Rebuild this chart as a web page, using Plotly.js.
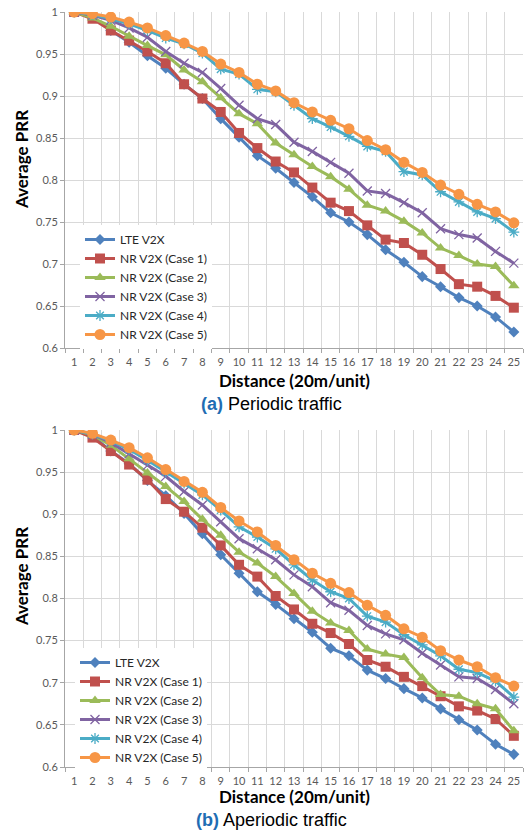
<!DOCTYPE html>
<html>
<head>
<meta charset="utf-8">
<script src="https://cdn.plot.ly/plotly-3.0.1.min.js"></script>
<style>html,body{margin:0;padding:0;background:#fff;}#chart{width:526px;height:831px;}</style>
</head>
<body>
<div id="chart"></div>
<script>
// ---- data ----
const categories = ['1','2','3','4','5','6','7','8','9','10','11','12','13','14','15','16','17','18','19','20','21','22','23','24','25'];
const seriesNames = ['LTE V2X','NR V2X (Case 1)','NR V2X (Case 2)','NR V2X (Case 3)','NR V2X (Case 4)','NR V2X (Case 5)'];
const yTickVals = [0.6,0.65,0.7,0.75,0.8,0.85,0.9,0.95,1];
const yTickText = ['0.6','0.65','0.7','0.75','0.8','0.85','0.9','0.95','1'];

// (a) Periodic traffic
const lteA   = [1.0,0.994,0.978,0.964,0.948,0.933,0.914,0.897,0.873,0.851,0.829,0.814,0.797,0.780,0.761,0.750,0.735,0.717,0.702,0.685,0.673,0.660,0.650,0.637,0.619];
const case1A = [1.0,0.992,0.978,0.966,0.953,0.939,0.914,0.897,0.881,0.856,0.838,0.822,0.809,0.791,0.773,0.763,0.746,0.729,0.725,0.711,0.694,0.676,0.673,0.662,0.648];
const case2A = [1.0,0.993,0.983,0.971,0.960,0.949,0.931,0.917,0.898,0.879,0.867,0.844,0.830,0.816,0.804,0.789,0.770,0.763,0.751,0.737,0.719,0.710,0.700,0.697,0.674];
const case3A = [1.0,0.996,0.990,0.981,0.970,0.953,0.939,0.928,0.909,0.889,0.873,0.866,0.845,0.834,0.821,0.808,0.787,0.784,0.773,0.761,0.742,0.735,0.731,0.715,0.701];
const case4A = [1.0,0.997,0.992,0.986,0.978,0.969,0.962,0.951,0.932,0.926,0.908,0.905,0.889,0.873,0.863,0.852,0.840,0.834,0.810,0.806,0.786,0.774,0.762,0.754,0.738];
const case5A = [1.0,0.998,0.994,0.988,0.981,0.972,0.963,0.953,0.938,0.928,0.914,0.906,0.892,0.881,0.871,0.861,0.847,0.836,0.821,0.809,0.794,0.783,0.771,0.762,0.749];

// (b) Aperiodic traffic
const lteB   = [1.0,0.993,0.975,0.960,0.940,0.922,0.901,0.877,0.852,0.830,0.808,0.793,0.776,0.760,0.741,0.732,0.715,0.705,0.693,0.682,0.669,0.656,0.644,0.627,0.615];
const case1B = [1.0,0.991,0.975,0.959,0.941,0.918,0.903,0.884,0.863,0.840,0.826,0.803,0.787,0.770,0.759,0.746,0.727,0.719,0.707,0.696,0.684,0.672,0.667,0.657,0.637];
const case2B = [1.0,0.994,0.982,0.966,0.949,0.933,0.915,0.894,0.875,0.855,0.842,0.826,0.806,0.785,0.771,0.762,0.740,0.734,0.730,0.706,0.686,0.684,0.675,0.669,0.643];
const case3B = [1.0,0.995,0.985,0.972,0.958,0.945,0.927,0.911,0.891,0.871,0.859,0.846,0.828,0.814,0.795,0.786,0.768,0.758,0.751,0.735,0.721,0.707,0.705,0.692,0.675];
const case4B = [1.0,0.995,0.987,0.977,0.964,0.950,0.937,0.923,0.905,0.885,0.873,0.859,0.840,0.822,0.808,0.800,0.779,0.772,0.757,0.745,0.732,0.716,0.712,0.702,0.683];
const case5B = [1.0,0.996,0.988,0.979,0.967,0.953,0.939,0.926,0.908,0.892,0.879,0.863,0.846,0.830,0.818,0.807,0.792,0.780,0.764,0.754,0.738,0.727,0.719,0.706,0.696];

// ---- styles ----
const colors  = ['#4F81BD','#C0504D','#9BBB59','#8064A2','#4BACC6','#F79646'];
const symbols = ['diamond','square','triangle-up','x-thin-open','asterisk-open','circle'];
const sizes   = [8.5,10,10,9,9,11];

function makeTraces(seriesList, xa, ya, legendId) {
  return seriesList.map((vals, i) => ({
    type: 'scatter', mode: 'lines+markers',
    x: categories, y: vals, xaxis: xa, yaxis: ya,
    name: seriesNames[i], legend: legendId,
    line: {color: colors[i], width: 3},
    marker: {symbol: symbols[i], size: sizes[i], color: colors[i],
             line: {color: colors[i], width: (i===3||i===4) ? 1.3 : 0}}
  }));
}

const data = [].concat(
  makeTraces([lteA,case1A,case2A,case3A,case4A,case5A], 'x', 'y', 'legend'),
  makeTraces([lteB,case1B,case2B,case3B,case4B,case5B], 'x2', 'y2', 'legend2')
);

const W = 526, H = 831;
const px = v => v / W;
const py = v => 1 - v / H;

const tickFont = {family: 'Lato, "Open Sans", sans-serif', size: 11, color: '#595959'};
function xAxis(anchor) {
  return {
    type: 'category', categoryorder: 'array', categoryarray: categories,
    range: [-0.5, categories.length - 0.5], autorange: false,
    domain: [px(65), px(523)], anchor: anchor, automargin: false,
    tickson: 'boundaries', ticks: 'outside', ticklen: 4, tickcolor: '#a6a6a6',
    ticklabelstandoff: 4,
    showgrid: true, gridcolor: '#d9d9d9', gridwidth: 1,
    showline: true, linecolor: '#a6a6a6', linewidth: 1,
    tickfont: tickFont, tickangle: 0, fixedrange: true
  };
}
function yAxis(anchor, top, bottom) {
  return {
    domain: [py(bottom), py(top)], anchor: anchor, range: [0.6, 1.0], autorange: false, automargin: false,
    tickvals: yTickVals, ticktext: yTickText,
    ticks: 'outside', ticklen: 4, tickcolor: '#a6a6a6',
    showgrid: true, gridcolor: '#d9d9d9', gridwidth: 1,
    showline: true, linecolor: '#a6a6a6', linewidth: 1,
    zeroline: false, tickfont: tickFont, fixedrange: true
  };
}

const titleFont = {family: 'Lato, "Open Sans", sans-serif', size: 17, color: '#000'};
const capFont = {family: '"Liberation Sans", Arial, sans-serif', size: 18, color: '#000'};
const legendFont = {family: 'Lato, "Open Sans", sans-serif', size: 12, color: '#262626'};

const layout = {
  width: W, height: H,
  margin: {l: 0, r: 0, t: 0, b: 0, autoexpand: false},
  paper_bgcolor: '#fff', plot_bgcolor: '#fff',
  showlegend: true,
  xaxis: xAxis('y'),
  yaxis: yAxis('x', 12, 348),
  xaxis2: xAxis('y2'),
  yaxis2: yAxis('x2', 430, 767),
  legend: {x: px(80), y: py(225), xanchor: 'left', yanchor: 'top',
           bgcolor: '#fff', font: legendFont, itemwidth: 30, tracegroupgap: 0},
  legend2: {x: px(75), y: py(648), xanchor: 'left', yanchor: 'top',
           bgcolor: '#fff', font: legendFont, itemwidth: 30, tracegroupgap: 0},
  annotations: [
    {text: '<b>Average PRR</b>', textangle: -90, xref: 'paper', yref: 'paper',
     x: px(21), y: py(160), xanchor: 'center', yanchor: 'middle', showarrow: false, font: titleFont},
    {text: '<b>Average PRR</b>', textangle: -90, xref: 'paper', yref: 'paper',
     x: px(21), y: py(577), xanchor: 'center', yanchor: 'middle', showarrow: false, font: titleFont},
    {text: '<b>Distance (20m/unit)</b>', xref: 'paper', yref: 'paper',
     x: px(294), y: py(380), xanchor: 'center', yanchor: 'middle', showarrow: false, font: titleFont},
    {text: '<b>Distance (20m/unit)</b>', xref: 'paper', yref: 'paper',
     x: px(294), y: py(796), xanchor: 'center', yanchor: 'middle', showarrow: false, font: titleFont},
    {text: '<b><span style="color:#1f6db3">(a)</span></b> Periodic traffic', xref: 'paper', yref: 'paper',
     x: px(271), y: py(404), xanchor: 'center', yanchor: 'middle', showarrow: false, font: capFont},
    {text: '<b><span style="color:#1f6db3">(b)</span></b> Aperiodic traffic', xref: 'paper', yref: 'paper',
     x: px(271), y: py(820), xanchor: 'center', yanchor: 'middle', showarrow: false, font: capFont}
  ]
};

Plotly.newPlot('chart', data, layout, {displayModeBar: false, staticPlot: true});
</script>
</body>
</html>
